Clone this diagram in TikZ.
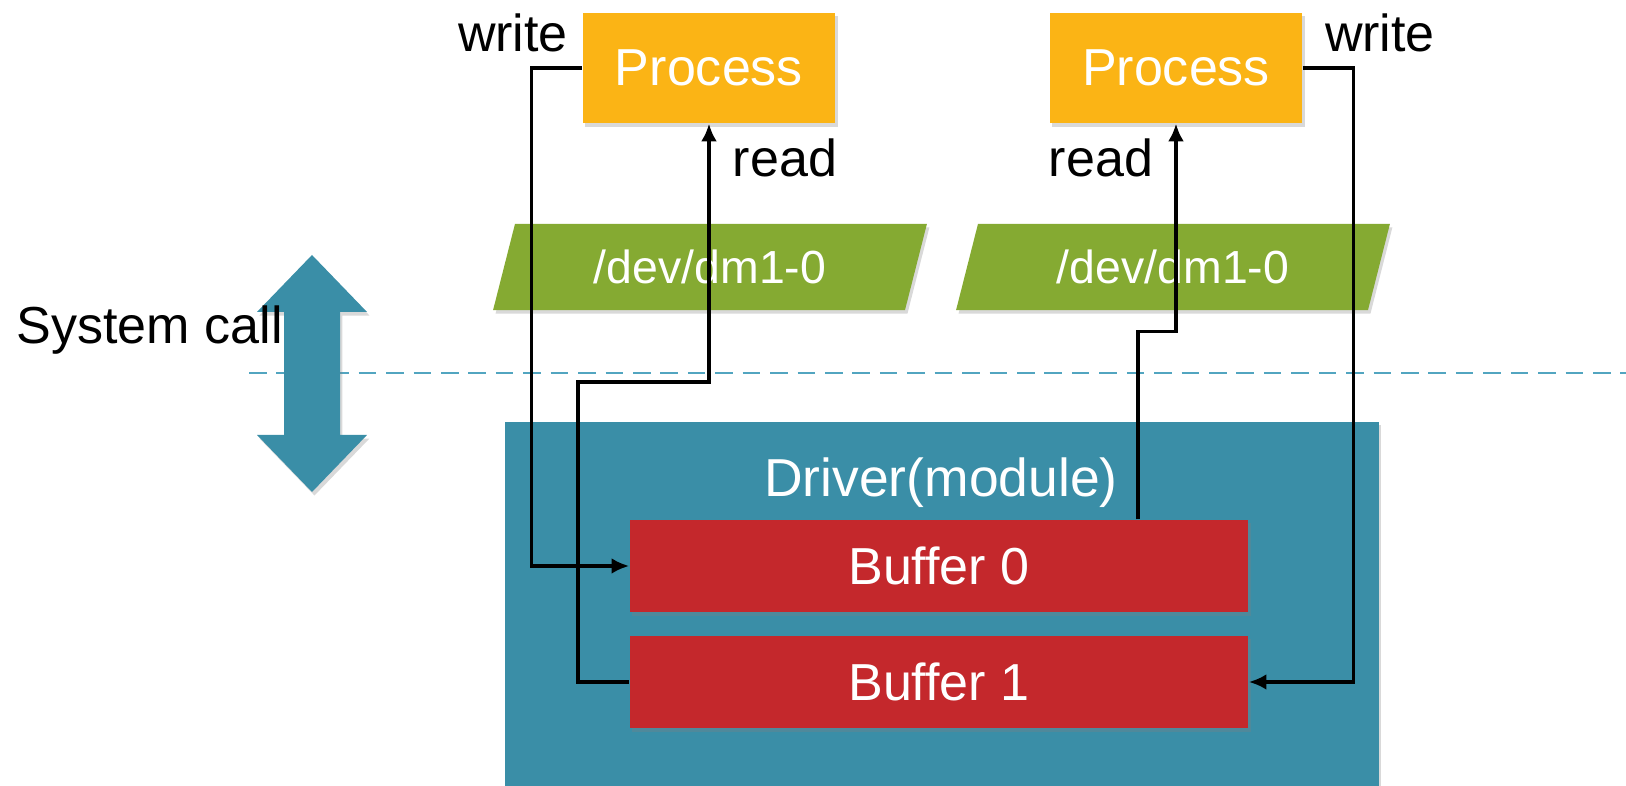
\documentclass[tikz,border=0pt]{standalone}
\usepackage{fontspec}
\setmainfont{Liberation Sans}
\usetikzlibrary{shapes.geometric,arrows.meta,shadows}
\definecolor{procorange}{HTML}{FBB415}
\definecolor{devgreen}{HTML}{85AA32}
\definecolor{drvteal}{HTML}{3A8EA7}
\definecolor{bufred}{HTML}{C4282C}
\definecolor{callblue}{HTML}{52A5C0}
\begin{document}
\begin{tikzpicture}[x=0.01cm,y=-0.01cm,
        font=\fontsize{14.8}{17}\selectfont,
        boxshadow/.style={drop shadow={opacity=0.3,shadow xshift=0.7pt,shadow yshift=-1pt}},
        proc/.style={fill=procorange,text=white,minimum width=2.52cm,minimum height=1.1cm,boxshadow},
        dev/.style={trapezium,trapezium left angle=76,trapezium right angle=104,trapezium stretches=true,
            fill=devgreen,text=white,minimum width=4.36cm,minimum height=0.86cm,
            font=\fontsize{13.2}{15}\selectfont,boxshadow},
        buf/.style={fill=bufred,text=white,minimum width=6.18cm,minimum height=0.92cm,boxshadow},
        link/.style={draw,line width=0.95pt,-{Latex[length=5pt,width=4.5pt]}}]
        \useasboundingbox (0,0) rectangle (1626,786);
        % user / kernel border
        \draw[callblue,line width=0.75pt,dash pattern=on 5pt off 2.8pt] (249,373) -- (1626,373);
        \fill[drvteal,boxshadow] (312,255) -- (367,312) -- (340,312) -- (340,435) -- (367,435)
            -- (312,492) -- (257,435) -- (284,435) -- (284,312) -- (257,312) -- cycle;
        \node[anchor=west,inner sep=0pt] (sc) at (16,330) {System call};
        % processes
        \node[proc] (p1) at (709,68) {Process};
        \node[proc] (p2) at (1176,68) {Process};
        \node (w1) at (513,33) {write};
        \node (r1) at (785,158) {read};
        \node (w2) at (1380,33) {write};
        \node (r2) at (1101,158) {read};
        % device files
        \node[dev] (d1) at (710,267) {/dev/dm1-0};
        \node[dev] (d2) at (1173,267) {/dev/dm1-0};
        % driver
        \node[fill=drvteal,minimum width=8.73cm,minimum height=3.64cm,boxshadow] (drv) at (942,604) {};
        \node[text=white,font=\fontsize{15.2}{18}\selectfont] (drvt) at (941,483) {Driver(module)};
        \node[buf] (b0) at (939,566) {Buffer 0};
        \node[buf] (b1) at (939,682) {Buffer 1};
        % data paths
        \path[link] (p1.west) -- ++(-51,0) |- (b0.west);
        \path[link] (b1.west) -- ++(-51,0) -- ++(0,-300) -| (p1.south);
        \path[link] ([xshift=1.99cm]b0.north) -- ++(0,-188) -| (p2.south);
        \path[link] (p2.east) -- ++(51,0) |- (b1.east);
\end{tikzpicture}
\end{document}
